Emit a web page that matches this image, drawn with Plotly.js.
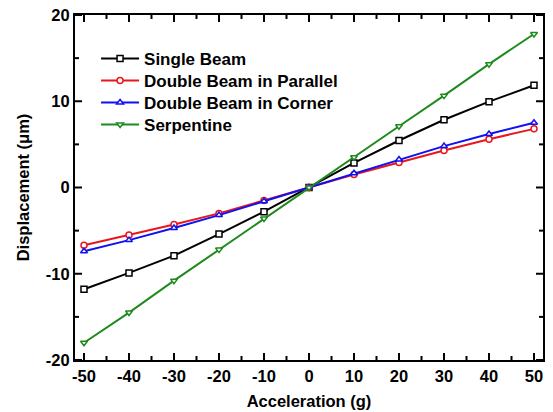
<!DOCTYPE html>
<html>
<head>
<meta charset="utf-8">
<script src="https://cdn.plot.ly/plotly-3.0.1.min.js"></script>
<style>html,body{margin:0;padding:0;background:#fff;}#chart{width:553px;height:412px;}</style>
</head>
<body>
<div id="chart"></div>
<script>
const acceleration = [-50, -40, -30, -20, -10, 0, 10, 20, 30, 40, 50];
const singleBeam   = [-11.8, -9.9, -7.9, -5.4, -2.8, 0, 2.85, 5.45, 7.85, 9.95, 11.85];
const doubleParallel = [-6.7, -5.5, -4.3, -3.0, -1.5, 0, 1.5, 2.9, 4.3, 5.6, 6.8];
const doubleCorner = [-7.4, -6.1, -4.7, -3.2, -1.6, 0, 1.65, 3.25, 4.8, 6.2, 7.5];
const serpentine   = [-18.0, -14.5, -10.8, -7.2, -3.6, 0, 3.5, 7.1, 10.65, 14.3, 17.8];
const seriesNames = ["Single Beam", "Double Beam in Parallel", "Double Beam in Corner", "Serpentine"];
const xTickVals = [-50, -40, -30, -20, -10, 0, 10, 20, 30, 40, 50];
const xTickText = ["-50", "-40", "-30", "-20", "-10", "0", "10", "20", "30", "40", "50"];
const xMinorVals = [-45, -35, -25, -15, -5, 5, 15, 25, 35, 45];
const yTickVals = [-20, -10, 0, 10, 20];
const yTickText = ["-20", "-10", "0", "10", "20"];
const yMinorVals = [-15, -5, 5, 15];
const xRange = [-52, 52];
const yRange = [-20, 20];

const fam = "Arial, 'Liberation Sans', sans-serif";
function trace(y, name, color, symbol, legendId) {
  return {
    x: acceleration, y: y, name: name, type: "scatter", mode: "lines+markers",
    legend: legendId,
    line: {color: color, width: 2},
    marker: {symbol: symbol, size: 6, color: "#ffffff", line: {color: color, width: 1.5}}
  };
}
const data = [
  trace(singleBeam, seriesNames[0], "#000000", "square", "legend"),
  trace(doubleParallel, seriesNames[1], "#e8161e", "circle", "legend2"),
  trace(doubleCorner, seriesNames[2], "#1010f0", "triangle-up", "legend3"),
  trace(serpentine, seriesNames[3], "#1e8a1e", "triangle-down", "legend4")
];
function mainAxis(extra) {
  return Object.assign({
    showgrid: false, zeroline: false, showline: true, linecolor: "#000000", linewidth: 2,
    mirror: true, ticks: "", tickmode: "array",
    tickfont: {family: fam, size: 16.5, color: "#000", weight: "bold"}
  }, extra);
}
// inward tick marks on all four sides, placed at the tick values through the axes
const tickLine = {color: "#000000", width: 2};
const shapes = [];
function xTicks(vals, len) {
  vals.forEach(function (v) {
    shapes.push({type: "line", layer: "above", xref: "x", yref: "paper", ysizemode: "pixel", yanchor: 0,
                 x0: v, x1: v, y0: 0, y1: len, line: tickLine});
    shapes.push({type: "line", layer: "above", xref: "x", yref: "paper", ysizemode: "pixel", yanchor: 1,
                 x0: v, x1: v, y0: 0, y1: -len, line: tickLine});
  });
}
function yTicks(vals, len) {
  vals.forEach(function (v) {
    shapes.push({type: "line", layer: "above", xref: "paper", yref: "y", xsizemode: "pixel", xanchor: 0,
                 x0: 0, x1: len, y0: v, y1: v, line: tickLine});
    shapes.push({type: "line", layer: "above", xref: "paper", yref: "y", xsizemode: "pixel", xanchor: 1,
                 x0: 0, x1: -len, y0: v, y1: v, line: tickLine});
  });
}
xTicks(xTickVals, 7);
xTicks(xMinorVals, 4);
yTicks(yTickVals, 7);
yTicks(yMinorVals, 4);

function legendAt(yPix) {
  return {x: 0.045, y: 1 - (yPix - 15) / 345, xanchor: "left", yanchor: "middle",
          bgcolor: "rgba(0,0,0,0)", borderwidth: 0, itemwidth: 38,
          font: {family: fam, size: 17, color: "#000", weight: "bold"}};
}
const layout = {
  width: 553, height: 412,
  margin: {l: 75, r: 10, t: 15, b: 52},
  paper_bgcolor: "#fff", plot_bgcolor: "#fff",
  font: {family: fam, size: 16.5, color: "#000"},
  showlegend: true,
  legend: legendAt(59),
  legend2: legendAt(81),
  legend3: legendAt(103),
  legend4: legendAt(125),
  shapes: shapes,
  xaxis: mainAxis({
    range: xRange, tickvals: xTickVals, ticktext: xTickText,
    title: {text: "Acceleration (g)", font: {family: fam, size: 16.5, color: "#000", weight: "bold"}, standoff: 12}
  }),
  yaxis: mainAxis({
    range: yRange, tickvals: yTickVals, ticktext: yTickText, ticksuffix: "  ",
    title: {text: "Displacement (\u03bcm)", font: {family: fam, size: 16.5, color: "#000", weight: "bold"}, standoff: 12}
  })
};
Plotly.newPlot("chart", data, layout, {displayModeBar: false, staticPlot: true});
</script>
</body>
</html>
